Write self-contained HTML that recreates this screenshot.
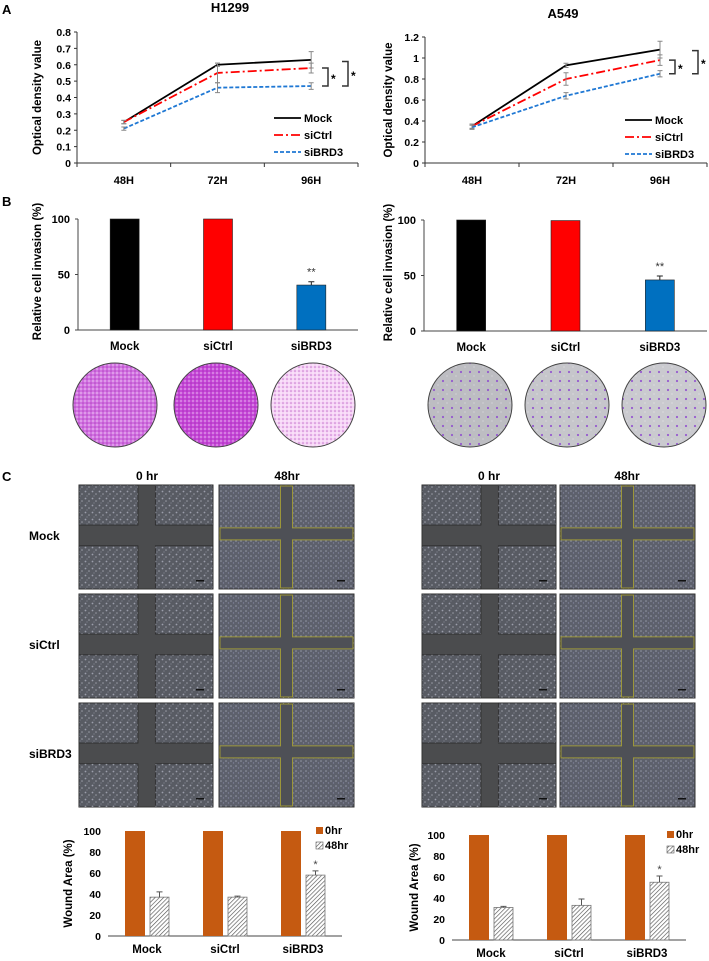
<!DOCTYPE html>
<html><head><meta charset="utf-8"><title>BRD3 figure</title>
<style>
html,body{margin:0;padding:0;background:#fff;}
svg{display:block;font-family:"Liberation Sans Narrow","Liberation Sans",sans-serif;font-weight:bold;}
</style></head>
<body>
<svg id="fig" width="709" height="961" viewBox="0 0 709 961" xmlns="http://www.w3.org/2000/svg">
<defs>
<pattern id="cells" width="7" height="7" patternUnits="userSpaceOnUse">
<circle cx="1.5" cy="1.5" r="0.9" fill="#c8ccd8" opacity="0.6"/><circle cx="5" cy="4" r="0.8" fill="#d8dce6" opacity="0.5"/><circle cx="3" cy="6" r="0.6" fill="#aab0c0" opacity="0.5"/>
</pattern>
<pattern id="cellsDense" width="5" height="5" patternUnits="userSpaceOnUse">
<circle cx="1" cy="1" r="0.8" fill="#b8bccc" opacity="0.6"/><circle cx="3.5" cy="3" r="0.7" fill="#8a8ea8" opacity="0.7"/>
</pattern>
<pattern id="magenta" width="4" height="4" patternUnits="userSpaceOnUse">
<circle cx="1" cy="1" r="0.9" fill="#ffffff" opacity="0.5"/><circle cx="3" cy="3" r="0.8" fill="#9010a0" opacity="0.5"/>
</pattern>
<pattern id="purple" width="9" height="9" patternUnits="userSpaceOnUse">
<circle cx="2" cy="3" r="1.1" fill="#8a40d0" opacity="0.8"/><circle cx="6" cy="7" r="0.6" fill="#ffffff" opacity="0.5"/>
</pattern>
<pattern id="hatch" width="3" height="3" patternUnits="userSpaceOnUse" patternTransform="rotate(45)">
<rect width="3" height="3" fill="#fff"/><line x1="0" y1="0" x2="0" y2="3" stroke="#555" stroke-width="1.3"/>
</pattern>
</defs>
</svg>
<script>
// ---------- Panel A data ----------
const timeCats = ["48H", "72H", "96H"];
const seriesNames = ["Mock", "siCtrl", "siBRD3"];
const h1299Mock = [0.25, 0.60, 0.63];
const h1299SiCtrl = [0.25, 0.55, 0.58];
const h1299SiBRD3 = [0.21, 0.46, 0.47];
const h1299MockErr = [0.01, 0.01, 0.05];
const h1299SiCtrlErr = [0.01, 0.06, 0.03];
const h1299SiBRD3Err = [0.01, 0.03, 0.02];
const h1299Ticks = ["0", "0.1", "0.2", "0.3", "0.4", "0.5", "0.6", "0.7", "0.8"];
const a549Mock = [0.35, 0.93, 1.08];
const a549SiCtrl = [0.35, 0.80, 0.98];
const a549SiBRD3 = [0.34, 0.64, 0.85];
const a549MockErr = [0.02, 0.02, 0.08];
const a549SiCtrlErr = [0.02, 0.06, 0.05];
const a549SiBRD3Err = [0.02, 0.03, 0.03];
const a549Ticks = ["0", "0.2", "0.4", "0.6", "0.8", "1", "1.2"];
// ---------- Panel B data ----------
const groupCats = ["Mock", "siCtrl", "siBRD3"];
const h1299Invasion = [100, 100, 40.5];
const h1299InvasionErr = [0, 0, 3];
const a549Invasion = [100, 99.5, 46];
const a549InvasionErr = [0, 0, 3.5];
const invasionTicks = ["0", "50", "100"];
// ---------- Panel C data ----------
const h1299Wound0 = [100, 100, 100];
const h1299Wound48 = [37, 37, 58];
const h1299Wound48Err = [5, 1, 4];
const a549Wound0 = [100, 100, 100];
const a549Wound48 = [31, 33, 55];
const a549Wound48Err = [1, 6, 6];
const woundTicks = ["0", "20", "40", "60", "80", "100"];

const NS = "http://www.w3.org/2000/svg";
const S = document.getElementById('fig');
function mk(tag, attrs, parent) {
  const e = document.createElementNS(NS, tag);
  for (const k in attrs) e.setAttribute(k, attrs[k]);
  (parent || S).appendChild(e);
  return e;
}
function txt(str, attrs, parent) {
  const t = mk('text', attrs, parent);
  t.textContent = str;
  return t;
}

[["A", 2, 14], ["B", 2, 206], ["C", 2, 481]].forEach(p => {
  const t = txt(p[0], {x: p[1], y: p[2], 'font-size': 13, fill: '#000'});
  
  
});

function lineChart(id, title, ax, ticks, vals, errs) {
  const g = mk('g', {});
  
  
  const n = timeCats.length;
  const max = parseFloat(ticks[ticks.length - 1]);
  const X = i => ax.x0 + (i + 0.5) * (ax.x1 - ax.x0) / n;
  const Y = v => ax.yb - v / max * (ax.yb - ax.yt);
  const tt = txt(title, {x: ax.tx, y: ax.ty, 'text-anchor': 'middle', 'font-size': 13}, g);
  
  
  const yt = txt('Optical density value', {x: 0, y: 0, 'text-anchor': 'middle', 'font-size': 11.5, transform: `translate(${ax.yl},${(ax.yt + ax.yb) / 2}) rotate(-90)`}, g);
  
  
  ticks.forEach((t, i) => {
    const v = parseFloat(t);
    const lab = txt(t, {x: ax.x0 - 6, y: Y(v) + 4, 'text-anchor': 'end', 'font-size': 10.5}, g);
    
    
    mk('line', {x1: ax.x0 - 3, x2: ax.x0, y1: Y(v), y2: Y(v), stroke: '#333'}, g);
  });
  const yaxis = mk('line', {x1: ax.x0, x2: ax.x0, y1: ax.yt, y2: ax.yb, stroke: '#333'}, g);
  
  
  const xaxis = mk('line', {x1: ax.x0, x2: ax.x1, y1: ax.yb, y2: ax.yb, stroke: '#333'}, g);
  
  
  for (let i = 0; i <= n; i++) {
    const xx = ax.x0 + i * (ax.x1 - ax.x0) / n;
    mk('line', {x1: xx, x2: xx, y1: ax.yb, y2: ax.yb + 4, stroke: '#333'}, g);
  }
  timeCats.forEach((c, i) => {
    const l = txt(c, {x: X(i), y: ax.yb + 21, 'text-anchor': 'middle', 'font-size': 11}, g);
    
    
  });
  const styles = [{c: '#000', d: ''}, {c: '#ff0000', d: '9,3,2,3'}, {c: '#1f78d4', d: '4,2'}];
  vals.forEach((s, k) => {
    const pts = s.map((v, i) => X(i) + ',' + Y(v)).join(' ');
    const pl = mk('polyline', {points: pts, fill: 'none', stroke: styles[k].c, 'stroke-width': 1.8, 'stroke-dasharray': styles[k].d}, g);
    
    
    s.forEach((v, i) => {
      const e = errs[k][i];
      const eb = mk('path', {d: `M${X(i)},${Y(v - e)}V${Y(v + e)}M${X(i) - 2.5},${Y(v - e)}h5M${X(i) - 2.5},${Y(v + e)}h5`, stroke: '#888', 'stroke-width': 1, fill: 'none'}, g);
      
      
    });
    const ly = ax.ly + k * 17;
    const ll = mk('line', {x1: ax.lx, x2: ax.lx + 27, y1: ly, y2: ly, stroke: styles[k].c, 'stroke-width': 1.8, 'stroke-dasharray': styles[k].d}, g);
    
    
    const lt = txt(seriesNames[k], {x: ax.lx + 30, y: ly + 4, 'font-size': 11}, g);
    
    
  });
  const last = n - 1;
  const br = (x, top, bot, nm) => {
    const b = mk('path', {d: `M${x - 6},${Y(top)}H${x}V${Y(bot)}H${x - 6}`, stroke: '#333', 'stroke-width': 1.5, fill: 'none'}, g);
    
    
    const a = txt('*', {x: x + 3, y: (Y(top) + Y(bot)) / 2 + 6, 'font-size': 12}, g);
    
    
  };
  br(ax.b1, vals[1][last], vals[2][last], id + '-bracket-inner');
  br(ax.b2, vals[0][last] - 0.01, vals[2][last], id + '-bracket-outer');
}
lineChart('h1299', 'H1299', {x0: 77, x1: 358, yt: 32, yb: 163, tx: 230, ty: 12, yl: 41, lx: 274, ly: 118, b1: 328, b2: 348},
  h1299Ticks, [h1299Mock, h1299SiCtrl, h1299SiBRD3], [h1299MockErr, h1299SiCtrlErr, h1299SiBRD3Err]);
lineChart('a549', 'A549', {x0: 425, x1: 707, yt: 37, yb: 163, tx: 563, ty: 18, yl: 392, lx: 625, ly: 120, b1: 675, b2: 698},
  a549Ticks, [a549Mock, a549SiCtrl, a549SiBRD3], [a549MockErr, a549SiCtrlErr, a549SiBRD3Err]);

function invasionChart(id, ax, vals, errs, circ) {
  const g = mk('g', {});
  
  
  const n = groupCats.length;
  const Y = v => ax.yb - v / 100 * (ax.yb - ax.yt);
  const X = i => ax.x0 + (i + 0.5) * (ax.x1 - ax.x0) / n;
  const colors = ['#000000', '#ff0000', '#0070c0'];
  const yt = txt('Relative cell invasion (%)', {x: 0, y: 0, 'text-anchor': 'middle', 'font-size': 11.5, transform: `translate(${ax.yl},${(ax.yt + ax.yb) / 2 - 3}) rotate(-90)`}, g);
  
  
  invasionTicks.forEach(t => {
    const v = parseFloat(t);
    const l = txt(t, {x: ax.x0 - 8, y: Y(v) + 4, 'text-anchor': 'end', 'font-size': 11}, g);
    
    
    mk('line', {x1: ax.x0 - 3, x2: ax.x0, y1: Y(v), y2: Y(v), stroke: '#444'}, g);
  });
  mk('line', {x1: ax.x0, x2: ax.x0, y1: ax.yt, y2: ax.yb, stroke: '#444'}, g);
  mk('line', {x1: ax.x0, x2: ax.x1, y1: ax.yb, y2: ax.yb, stroke: '#444'}, g);
  vals.forEach((v, i) => {
    const r = mk('rect', {x: X(i) - 14.5, y: Y(v), width: 29, height: ax.yb - Y(v), fill: colors[i], stroke: '#222', 'stroke-width': 0.6}, g);
    
    
    if (errs[i] > 0) {
      mk('path', {d: `M${X(i)},${Y(v)}V${Y(v + errs[i])}M${X(i) - 3},${Y(v + errs[i])}h6`, stroke: '#222', fill: 'none'}, g);
      const s = txt('**', {x: X(i), y: Y(v + errs[i]) - 6, 'text-anchor': 'middle', 'font-size': 11, 'font-weight': 'normal', fill: '#333'}, g);
      
      
    }
    const l = txt(groupCats[i], {x: X(i), y: ax.yb + 20, 'text-anchor': 'middle', 'font-size': 11.5}, g);
    
    
    const c = circ[i];
    const e = mk('ellipse', {cx: c.x, cy: 405, rx: 42, ry: 42, fill: c.fill, stroke: '#444', 'stroke-width': 1}, g);
    
    
    mk('ellipse', {cx: c.x, cy: 405, rx: 41.5, ry: 41.5, fill: 'url(#' + c.pat + ')'}, g);
  });
}
invasionChart('h1299', {x0: 78, x1: 358, yt: 219, yb: 330, yl: 41}, h1299Invasion, h1299InvasionErr,
  [{x: 115, fill: '#d070e0', pat: 'magenta'}, {x: 216, fill: '#c448d6', pat: 'magenta'}, {x: 313, fill: '#f6d4f6', pat: 'magenta'}]);
invasionChart('a549', {x0: 424, x1: 707, yt: 220, yb: 331, yl: 392}, a549Invasion, a549InvasionErr,
  [{x: 470, fill: '#bdbdc2', pat: 'purple'}, {x: 567, fill: '#c6c6cb', pat: 'purple'}, {x: 664, fill: '#cacacf', pat: 'purple'}]);

const rowLabels = ["Mock", "siCtrl", "siBRD3"];
const rowsY = [485, 594, 703];
[["0 hr", 147], ["48hr", 287], ["0 hr", 489], ["48hr", 627]].forEach(h => {
  const t = txt(h[0], {x: h[1], y: 480, 'text-anchor': 'middle', 'font-size': 12});
  
  
});
rowLabels.forEach((r, i) => {
  const t = txt(r, {x: 29, y: rowsY[i] + 55, 'font-size': 12});
  
  
});
function img0(x, y, w, h, nm) {
  const g = mk('g', {});
  
  
  mk('rect', {x: x, y: y, width: w, height: h, fill: '#4b4c4e', stroke: '#333'}, g);
  const vx1 = x + w * 0.44, vx2 = x + w * 0.57, hy1 = y + h * 0.385, hy2 = y + h * 0.585;
  [[x, y, vx1 - x, hy1 - y], [vx2, y, x + w - vx2, hy1 - y], [x, hy2, vx1 - x, y + h - hy2], [vx2, hy2, x + w - vx2, y + h - hy2]].forEach(q => {
    mk('rect', {x: q[0], y: q[1], width: q[2], height: q[3], fill: '#585b63', stroke: '#2a2a2a', 'stroke-width': 0.8}, g);
    mk('rect', {x: q[0], y: q[1], width: q[2], height: q[3], fill: 'url(#cells)'}, g);
  });
  mk('rect', {x: x + w - 17, y: y + h - 9, width: 8, height: 1.5, fill: '#111'}, g);
}
function img48(x, y, w, h, nm) {
  const g = mk('g', {});
  
  
  mk('rect', {x: x, y: y, width: w, height: h, fill: '#5d606c', stroke: '#333'}, g);
  mk('rect', {x: x, y: y, width: w, height: h, fill: 'url(#cellsDense)'}, g);
  const cx = x + w * 0.5, cy = y + h * 0.47;
  mk('path', {d: `M${cx - 6},${y + 1}h12v${cy - y - 7}H${x + w - 1}v12H${cx + 6}V${y + h - 1}h-12V${cy + 6}H${x + 1}v-12H${cx - 6}Z`, fill: '#4e5056', stroke: '#9c963a', 'stroke-width': 1}, g);
  mk('rect', {x: x + w - 17, y: y + h - 9, width: 8, height: 1.5, fill: '#111'}, g);
}
rowsY.forEach((yy, i) => {
  const r = rowLabels[i].toLowerCase();
  img0(79, yy, 134, 104, 'h1299-0hr-' + r + '-image');
  img48(219, yy, 135, 104, 'h1299-48hr-' + r + '-image');
  img0(422, yy, 134, 104, 'a549-0hr-' + r + '-image');
  img48(560, yy, 135, 104, 'a549-48hr-' + r + '-image');
});

function woundChart(id, ax, v0, v48, e48) {
  const g = mk('g', {});
  
  
  const n = groupCats.length;
  const Y = v => ax.yb - v / 100 * (ax.yb - ax.yt);
  const X = i => ax.x0 + (i + 0.5) * (ax.x1 - ax.x0) / n;
  const yt = txt('Wound Area (%)', {x: 0, y: 0, 'text-anchor': 'middle', 'font-size': 11.5, transform: `translate(${ax.yl},${(ax.yt + ax.yb) / 2}) rotate(-90)`}, g);
  
  
  woundTicks.forEach(t => {
    const v = parseFloat(t);
    const l = txt(t, {x: ax.x0 - 7, y: Y(v) + 4, 'text-anchor': 'end', 'font-size': 10.5}, g);
    
    
  });
  mk('line', {x1: ax.x0, x2: ax.x1, y1: ax.yb, y2: ax.yb, stroke: '#444'}, g);
  groupCats.forEach((c, i) => {
    const b0 = mk('rect', {x: X(i) - 22, y: Y(v0[i]), width: 20, height: ax.yb - Y(v0[i]), fill: '#c55a11'}, g);
    
    
    const b1 = mk('rect', {x: X(i) + 3, y: Y(v48[i]), width: 19, height: ax.yb - Y(v48[i]), fill: 'url(#hatch)', stroke: '#777', 'stroke-width': 0.8}, g);
    
    
    const ex = X(i) + 12.5, top = Y(v48[i] + e48[i]);
    mk('path', {d: `M${ex},${Y(v48[i])}V${top}M${ex - 3},${top}h6`, stroke: '#555', fill: 'none'}, g);
    if (v48[i] > 50) {
      const s = txt('*', {x: ex, y: top - 3, 'text-anchor': 'middle', 'font-size': 11, 'font-weight': 'normal', fill: '#444'}, g);
      
      
    }
    const l = txt(c, {x: X(i), y: ax.yb + 17, 'text-anchor': 'middle', 'font-size': 11.5}, g);
    
    
  });
  const lg0 = mk('rect', {x: ax.lx, y: ax.yt - 4, width: 7, height: 7, fill: '#c55a11'}, g);
  
  
  const t0 = txt('0hr', {x: ax.lx + 9, y: ax.yt + 3, 'font-size': 11}, g);
  
  
  const lg1 = mk('rect', {x: ax.lx, y: ax.yt + 11, width: 7, height: 7, fill: 'url(#hatch)', stroke: '#555', 'stroke-width': 0.6}, g);
  
  
  const t1 = txt('48hr', {x: ax.lx + 9, y: ax.yt + 18, 'font-size': 11}, g);
  
  
}
woundChart('h1299', {x0: 108, x1: 342, yt: 831, yb: 936, yl: 72, lx: 316}, h1299Wound0, h1299Wound48, h1299Wound48Err);
woundChart('a549', {x0: 452, x1: 686, yt: 835, yb: 940, yl: 418, lx: 667}, a549Wound0, a549Wound48, a549Wound48Err);
</script>
</body></html>
